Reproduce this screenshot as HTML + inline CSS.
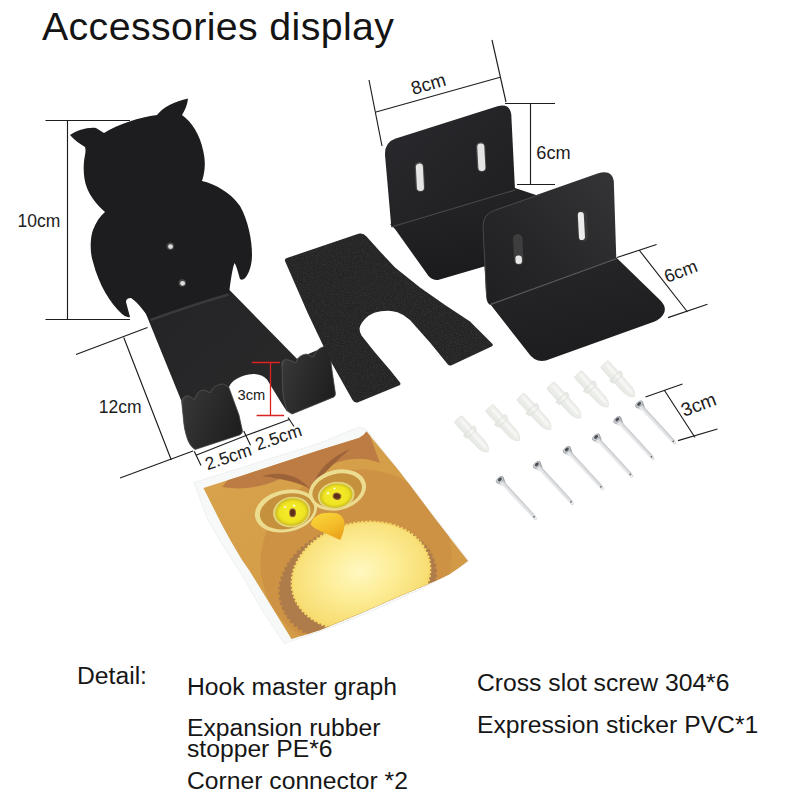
<!DOCTYPE html>
<html lang="en">
<head>
<meta charset="utf-8">
<title>Accessories display</title>
<style>
html,body{margin:0;padding:0;background:#fff;}
body{width:800px;height:800px;position:relative;overflow:hidden;font-family:"Liberation Sans",sans-serif;color:#111;}
.t{position:absolute;white-space:nowrap;line-height:1;margin:0;}
#title{left:42px;top:7px;font-size:39.3px;letter-spacing:0.38px;color:#141414;}
.d{font-size:24.7px;color:#161616;}
svg{position:absolute;left:0;top:0;}
svg text{font-family:"Liberation Sans",sans-serif;}
</style>
</head>
<body>
<svg width="800" height="800" viewBox="0 0 800 800">
<!--S1-->
<defs>
<linearGradient id="gPlate" x1="0" y1="0" x2="1" y2="1">
<stop offset="0" stop-color="#242426"/><stop offset="1" stop-color="#2b2b2c"/>
</linearGradient>
<linearGradient id="gHook" x1="0" y1="0.1" x2="1" y2="0.5">
<stop offset="0" stop-color="#585858"/><stop offset="0.1" stop-color="#363637"/><stop offset="0.6" stop-color="#29292a"/><stop offset="1" stop-color="#1f1f20"/>
</linearGradient>
</defs>
<!-- owl hook : lower plate + hooks -->
<g id="hook">
<path id="plate" fill="url(#gPlate)" d="M146,314 L181.6,401.5 L183.9,424 Q186,443 195.1,449.6 L239.5,435 Q243,433 242.4,430.5 L239,415 L228.9,387.4 C231,381 240,375 253.5,374 C259,374 264,376 267,379.5 L281.9,403.75 L286.6,411 L292.2,414 L333.4,397.2 Q336,396 335.3,392.5 L332.5,373.75 L329.7,351.25 L325.9,346.6 L296.9,358.75 L229.5,290 Z"/>
<path id="hookL" fill="url(#gHook)" stroke="#5a5a5a" stroke-width="0.7" d="M181.6,401.5 Q183,396.5 186.1,395.9 Q189,395.6 190.6,397 L194.7,399.6 Q196.5,392.5 200.3,390.9 Q203,389.8 205.3,390.3 L210.2,392.8 Q212.5,387 217.6,385.3 Q220.5,384 223.3,384 L228.9,387.4 L239,415 L242.4,430.5 Q243,433.5 239.5,435 L195.1,449.6 Q189,446 186.5,436 Q184.2,428 183.9,424 Z"/>
<path id="hookR" fill="url(#gHook)" stroke="#5a5a5a" stroke-width="0.7" d="M281.9,362.5 Q283,360 284.7,359.7 Q288,359.5 290.3,360.6 L295.9,362.8 Q297.5,357.5 300.6,355.9 Q303.5,354.2 306.25,354 L313.5,357 Q316,350 321.25,347.5 Q324,346.3 325.9,346.6 Q328.5,348 329.7,351.25 L332.5,373.75 L335.3,392.5 Q336,396 333.4,397.2 L292.2,414 Q288,412.5 286.6,409.4 Q283.5,400 282.8,392.5 Z"/>
<path id="owl" fill="#1d1d20" d="M70,135 C77,130 88,127 96,128 L104,133 C118,124 140,117 157,115 C162,108 175,101 188,98.5 C187.5,105 185,110 182,115 C192,122 200,135 203,150 C206,162 205,172 202,181 C215,184 230,192 240,206 C248,220 252,240 252,255 C252,265 249,273 246,277 Q243,281 240,279 C238,272 236.5,266 234.5,263 C232,270 230.5,282 229,294 L150,320 C147,315 138,302 131,298 Q126,298 126,302 L130,317 Q126,318 122,314 C110,303 99,285 93,262 C89,250 91,235 93,230 C96,222 100,216 105,212 C97,205 90,196 87,188 C83,178 83,165 85,155 Q86,150 85,147 C80,144 74,140 70,135 Z"/>
<circle cx="170.3" cy="246.3" r="3.8" fill="#4a4a4a"/><circle cx="170.5" cy="246.6" r="2.4" fill="#dcdcdc"/>
<circle cx="182.3" cy="283" r="3.8" fill="#4a4a4a"/><circle cx="182.6" cy="283.3" r="2.4" fill="#dcdcdc"/>
<path d="M150,318.5 Q190,304 228,293" stroke="#3a3a3c" stroke-width="2.5" fill="none" transform="translate(0.5,1.5)"/>
</g>
<!--/S1-->
<!--S2-->
<!-- felt pad -->
<defs>
<filter id="felt" x="0" y="0" width="100%" height="100%" color-interpolation-filters="sRGB"><feTurbulence type="fractalNoise" baseFrequency="0.9" numOctaves="2" seed="3" result="n"/><feColorMatrix in="n" type="matrix" values="0 0 0 0 0.3  0 0 0 0 0.3  0 0 0 0 0.3  0.6 0.6 0 0 -0.5"/><feComposite in2="SourceGraphic" operator="in" result="sp"/><feMerge><feMergeNode in="SourceGraphic"/><feMergeNode in="sp"/></feMerge></filter>
</defs>
<path id="feltpad" filter="url(#felt)" fill="#242424" d="M285,261 Q284.5,258.5 287,258 L358.5,233.8 Q363,232.5 366.5,236.5 L380,251.5 L395,267.5 L420,287.5 L445,305 L470,321.5 L492.5,344 Q493.5,345.5 491.5,346.5 L451,365.5 Q449,366 447.5,364 L430,342.5 L410,320 Q404,314.5 397.5,312.3 Q392,310.5 387.5,310.7 Q380,311 375,312.5 Q368,315 364.5,319.5 Q360,324.5 359.5,328.5 Q359.5,332 361.5,335.5 L375,352.5 L390,370 L400,382.5 Q401,384.5 399.5,385.3 L357.5,402.5 Q354.5,403 352.5,400 L330,360 L307.5,312.5 Z"/>
<!--/S2-->
<!--S3-->
<!-- brackets -->
<defs>
<linearGradient id="gB1h" x1="0" y1="0" x2="0.3" y2="1"><stop offset="0" stop-color="#303032"/><stop offset="0.25" stop-color="#232325"/><stop offset="1" stop-color="#1b1b1d"/></linearGradient>
<linearGradient id="gB2h" x1="0" y1="0" x2="0.35" y2="1"><stop offset="0" stop-color="#353537"/><stop offset="0.2" stop-color="#252527"/><stop offset="1" stop-color="#1d1d1f"/></linearGradient>
<linearGradient id="gB2v" x1="1" y1="0" x2="0" y2="1"><stop offset="0" stop-color="#353538"/><stop offset="0.6" stop-color="#262628"/><stop offset="1" stop-color="#1f1f21"/></linearGradient>
<linearGradient id="gBv" x1="0" y1="0" x2="1" y2="1"><stop offset="0" stop-color="#2a2a2e"/><stop offset="1" stop-color="#1e1e21"/></linearGradient>
</defs>
<g id="bracket1">
<path fill="url(#gB1h)" d="M390,224 L515,188 L542,197 L560,250 L485,266.3 L438,280 Q431,281 426.2,272.8 L395,229 Z"/>
<path fill="url(#gBv)" d="M385,155 Q384.5,142.5 395,138.8 L497.5,106.3 Q510,103 511.3,115 L515,190 L391.3,227 Z"/>
<path d="M391.5,227 L515,190" stroke="#4a4a4a" stroke-width="1.1" fill="none"/>
<rect x="415.2" y="162" width="9.2" height="30" rx="4.6" fill="#4a4a4a" transform="rotate(-3 420 177)"/>
<rect x="416.4" y="163.6" width="7" height="27.4" rx="3.4" fill="#e4e4e4" transform="rotate(-3 420 177)"/>
<rect x="476.6" y="142" width="9.2" height="30" rx="4.6" fill="#4a4a4a" transform="rotate(-3 481 157)"/>
<rect x="477.8" y="143.6" width="7" height="27.4" rx="3.4" fill="#e4e4e4" transform="rotate(-3 481 157)"/>
</g>
<g id="bracket2">
<path fill="url(#gB2h)" d="M488.5,302 L616.3,257.5 L660,300 Q667.5,307.5 663.5,314 Q661,319 654,321.8 L546,360.5 Q535,363 528,352.5 Z"/>
<path fill="url(#gB2v)" d="M482.5,226 Q482.5,213.5 494,210 L597.5,173.6 Q612,169 613.8,181 L616.3,258.8 L490,305 Q486.5,302 486.3,297 Z"/>
<path d="M490,304.6 L616.3,258.8" stroke="#5a5a5a" stroke-width="1.2" fill="none"/>
<path d="M486.6,297 L483,227 Q483,214 494.2,210.5 L540,194.5" stroke="#484848" stroke-width="1" fill="none"/>
<rect x="513.6" y="234" width="9.4" height="31" rx="4.7" fill="#3e3e3e" transform="rotate(-3 518 250)"/>
<rect x="515" y="255.5" width="6.4" height="8.4" rx="2.8" fill="#e8e8e8" transform="rotate(-3 518 250)"/>
<rect x="577.4" y="210.6" width="10" height="31" rx="5" fill="#3a3a3a" transform="rotate(-3 582 226)"/>
<rect x="578.4" y="212" width="6" height="28" rx="3" fill="#ececec" transform="rotate(-3 582 226)"/>
</g>
<!--/S3-->
<!--S4-->
<!-- sticker -->
<defs>
<clipPath id="stClip"><path d="M203.4,488 L245,474.75 L320,450 L359,438 Q363.5,436 366.5,431.5 L400,472 L436,520 L468,561 Q459,568 450,574 Q440,579 428,584 L400,596 Q360,614 320,630 L291.5,639 L270,604 L249,570 L242,560 Q231,542 222,525 Z"/></clipPath>
<radialGradient id="gBelly" cx="0.5" cy="0.45" r="0.62"><stop offset="0" stop-color="#fff7c0"/><stop offset="0.4" stop-color="#fdee98"/><stop offset="1" stop-color="#f5d562"/></radialGradient>
<radialGradient id="gEye" cx="0.5" cy="0.5" r="0.5"><stop offset="0" stop-color="#f7ee2c"/><stop offset="0.75" stop-color="#efe422"/><stop offset="1" stop-color="#cdbc20"/></radialGradient>
<linearGradient id="gBeak" x1="0.2" y1="0" x2="0.8" y2="1"><stop offset="0" stop-color="#f8d63a"/><stop offset="0.55" stop-color="#f4bc28"/><stop offset="1" stop-color="#e9a01c"/></linearGradient>
<linearGradient id="gSt" x1="0" y1="0" x2="1" y2="1"><stop offset="0" stop-color="#d9a54e"/><stop offset="0.5" stop-color="#d49d48"/><stop offset="1" stop-color="#d09644"/></linearGradient>
</defs>
<g id="sticker">
<path fill="#f7f8f8" stroke="#e9ebeb" stroke-width="0.7" d="M194,482.5 L320,443 L359,427 L367,430 L469,561 Q440,582 400,598.5 Q340,626 284,643.5 L262,610 L240,572 Q222,545 207.5,519.5 Z"/>
<g clip-path="url(#stClip)">
<rect x="190" y="420" width="290" height="240" fill="url(#gSt)"/>
<!-- body -->
<ellipse cx="356" cy="560" rx="96" ry="90" fill="#cd9243" transform="rotate(-18 356 560)"/>
<!-- head tufts -->
<path fill="#bd7c44" d="M222,487 Q252,492 280,479 Q300,474 311,493 Q317,471 338,462 Q360,455 380,463 L366,425 L236,470 Z"/>
<path fill="#9c6238" d="M262,476 Q292,468 310,489 Q298,481 262,476 Z M312,487 Q320,462 350,449 Q330,466 312,487 Z"/>
<!-- feather ring -->
<ellipse cx="357" cy="583" rx="79" ry="58" fill="#ae7c4a" stroke="#ae7c4a" stroke-width="3" stroke-dasharray="3 2.2" transform="rotate(-14 358 580)"/>
<ellipse cx="361" cy="576" rx="70" ry="53" fill="url(#gBelly)" stroke="#f5d868" stroke-width="2.5" stroke-dasharray="2.4 1.6" transform="rotate(-14 361 576)"/>
<!-- eyes -->
<ellipse cx="286" cy="511" rx="31.5" ry="21" fill="#ecdc90" transform="rotate(-12 286 511)"/>
<ellipse cx="287" cy="511.3" rx="27.5" ry="17.6" fill="#c6913d" transform="rotate(-12 287 511.3)"/>
<ellipse cx="337.5" cy="490" rx="29" ry="20" fill="#ecdc90" transform="rotate(-14 337.5 490)"/>
<ellipse cx="337.2" cy="490.5" rx="25.2" ry="16.6" fill="#c6913d" transform="rotate(-14 337.2 490.5)"/>
<ellipse cx="291.8" cy="512" rx="18.8" ry="15.2" fill="#e4d67e" transform="rotate(-10 291.8 512)"/>
<ellipse cx="292" cy="512" rx="16.9" ry="13.6" fill="url(#gEye)" transform="rotate(-10 292 512)"/>
<ellipse cx="292.6" cy="512.8" rx="3.4" ry="4.5" fill="#8f5f2c"/>
<ellipse cx="292.6" cy="512.8" rx="2.3" ry="3.3" fill="#5a2e18"/>
<circle cx="294" cy="505.6" r="1.2" fill="#fffbe0"/><circle cx="285.2" cy="507" r="1.1" fill="#fffbe0"/>
<ellipse cx="336.2" cy="495.5" rx="18.4" ry="13.6" fill="#e4d67e" transform="rotate(-10 336.2 495.5)"/>
<ellipse cx="336.2" cy="495.6" rx="16.5" ry="12" fill="url(#gEye)" transform="rotate(-10 336.2 495.6)"/>
<ellipse cx="337" cy="496.2" rx="4.4" ry="3.6" fill="#8f5f2c" transform="rotate(15 337 496.2)"/>
<ellipse cx="337" cy="496.2" rx="3.1" ry="2.4" fill="#5a2e18" transform="rotate(15 337 496.2)"/>
<circle cx="328" cy="493.2" r="1.2" fill="#fffbe0"/><circle cx="334.5" cy="488.5" r="1.1" fill="#fffbe0"/>
<!-- beak -->
<path fill="url(#gBeak)" d="M310.5,524 Q313,516.5 321.5,513.6 Q330,511.8 337.7,513.6 Q343,516.5 344.5,522 Q345,530 340.2,540 Q329,535 319.5,530.5 Q312.5,527.5 310.5,524 Z"/>
</g>
</g>
<!--/S4-->
<!--S5-->
<!-- plugs and screws -->
<defs>
<linearGradient id="gPlug" x1="0" y1="0" x2="0" y2="1"><stop offset="0" stop-color="#e2e4df"/><stop offset="0.35" stop-color="#f1f2ee"/><stop offset="0.7" stop-color="#e9ebe6"/><stop offset="1" stop-color="#dfe1dc"/></linearGradient>
<linearGradient id="gScrew" x1="0" y1="0" x2="0" y2="1"><stop offset="0" stop-color="#6e7277"/><stop offset="0.4" stop-color="#d6d8db"/><stop offset="0.7" stop-color="#eceef0"/><stop offset="1" stop-color="#a4a8ad"/></linearGradient>
<g id="plug">
<path fill="url(#gPlug)" stroke="#e3e5e0" stroke-width="0.8" d="M0,-3.4 Q0,-5.2 2,-5.2 L16,-5.2 L16.5,-7.6 L21,-6.4 L21,-5.2 L36,-4.9 Q43,-4 45,0 Q43,4 36,4.9 L21,5.2 L21,6.4 L16.5,7.6 L16,5.2 L2,5.2 Q0,5.2 0,3.4 Z"/>
<path d="M3,-1.4 L40,-0.8" stroke="#f6f7f4" stroke-width="2.6" fill="none"/>
<path d="M16.2,-6 L16.2,6 M21,-5 L21,5" stroke="#dadcd7" stroke-width="0.8" fill="none"/>
</g>
<g id="screw">
<path fill="url(#gScrew)" d="M-1.5,-4.3 Q1,-4.6 2,-3.8 L6.5,-2 L50,-1.9 Q52,-1.5 52,0 Q52,1.5 50,1.9 L6.5,2 L2,3.8 Q1,4.6 -1.5,4.3 Q-3,0 -1.5,-4.3 Z"/>
<ellipse cx="-0.3" cy="0" rx="2.5" ry="4.2" fill="#c9ccd0" stroke="#9da1a6" stroke-width="0.6"/>
<ellipse cx="-0.5" cy="-0.3" rx="1.5" ry="2.3" fill="#4c4f53"/>
<circle cx="50.2" cy="0" r="0.9" fill="#66696d"/><circle cx="52.3" cy="0" r="1.3" fill="#f4f5f6" stroke="#b9bcc0" stroke-width="0.5"/>
</g>
</defs>
<g id="plugs">
<use href="#plug" transform="translate(457.75,418.75) rotate(47.4)"/>
<use href="#plug" transform="translate(489,407.5) rotate(47.4)"/>
<use href="#plug" transform="translate(520.25,396.25) rotate(47.4)"/>
<use href="#plug" transform="translate(550.25,385) rotate(47.4)"/>
<use href="#plug" transform="translate(577.75,373.75) rotate(47.4)"/>
<use href="#plug" transform="translate(604,363.75) rotate(47.4)"/>
</g>
<g id="screws">
<use href="#screw" transform="translate(500,480) rotate(47.4)"/>
<use href="#screw" transform="translate(537,465) rotate(47.4)"/>
<use href="#screw" transform="translate(567,450) rotate(47.4)"/>
<use href="#screw" transform="translate(596.25,437.5) rotate(47.4)"/>
<use href="#screw" transform="translate(617.5,420) rotate(47.4)"/>
<use href="#screw" transform="translate(639.25,404.5) rotate(47.4)"/>
</g>
<!--/S5-->
<!--S6-->
<!-- dimension lines and labels -->
<g id="dims" stroke="#1e1e1e" stroke-width="1.15" fill="none">
<path d="M45.5,120.5 H130 M67.5,120 V319.5 M45.5,319.5 H130"/>
<path d="M76,354.5 L147.5,327.5 M123.75,337.5 L171.3,460 M120,478 L193,451 M196,455.2 L246,435.5 L290,419.3"/>
<path d="M194.25,451.25 L201,465.5 M243.75,431 L250.5,445.25 M288,417.5 L294,426.5"/>
<path d="M369,80 L382,146 M492,40 L506,102 M376,112 L501,77"/>
<path d="M505,103.5 H555 M530.5,103.5 V184.5 M517,184.5 H555"/>
<path d="M617,257.5 L656.6,244.5 M668,317.6 L707.5,304.3 M639.5,250.5 L687.5,312"/>
<path d="M645.5,397 L682.5,384 M678,440.6 L717.5,429 M664.5,390.5 L695,437.5"/>
</g>
<g stroke="#dd2222" stroke-width="1.3" fill="none">
<path d="M252,362.5 H280 M270.5,362.5 V415.5 M256.6,415.5 H284"/>
</g>
<g id="dimtext" font-size="17.5" style="font-family:'Liberation Sans',sans-serif" fill="#1c1c1c" stroke="none">
<text x="17.5" y="227">10cm</text>
<text x="98.75" y="412.5">12cm</text>
<text x="237.6" y="400.4" font-size="14.7">3cm</text>
<text transform="translate(207.6,470.2) rotate(-18.7)">2.5cm</text>
<text transform="translate(257.8,450.6) rotate(-18.7)">2.5cm</text>
<text transform="translate(413.3,95) rotate(-16.5)" font-size="18.6">8cm</text>
<text x="536.3" y="159" font-size="18.2">6cm</text>
<text transform="translate(667,283) rotate(-20.7)" font-size="18">6cm</text>
<text transform="translate(684,417) rotate(-20.6)" font-size="19">3cm</text>
</g>
<!--/S6-->
<!--SHAPES-->
</svg>
<h1 class="t" id="title" style="font-weight:normal">Accessories display</h1>
<p class="t d" id="d0" style="left:77px;top:664px">Detail:</p>
<p class="t d" id="d1" style="left:187px;top:675px">Hook master graph</p>
<p class="t d" id="d2" style="left:187px;top:716px">Expansion rubber</p>
<p class="t d" id="d3" style="left:187px;top:737px">stopper PE*6</p>
<p class="t d" id="d4" style="left:187px;top:769px">Corner connector *2</p>
<p class="t d" id="d5" style="left:477px;top:671px">Cross slot screw 304*6</p>
<p class="t d" id="d6" style="left:477px;top:713px">Expression sticker PVC*1</p>
</body>
</html>
